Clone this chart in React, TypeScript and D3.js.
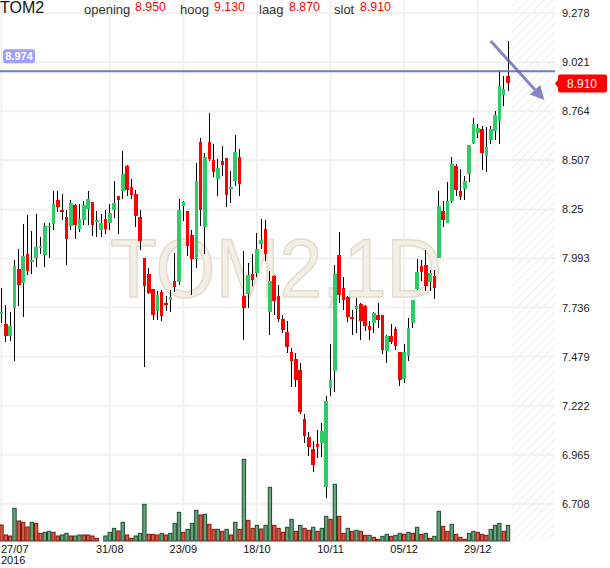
import React, { useEffect, useRef } from 'react';
import * as d3 from 'd3';

const symbol = 'TOM2';
const watermark = 'TOM2,1D';

const opens = [
  7.700, 7.651, 7.589, 7.736, 7.939, 7.864, 8.018, 7.972, 7.993, 8.046,
  8.012, 8.156, 8.175, 8.301, 8.248, 8.210, 8.165, 8.275, 8.149, 8.196,
  8.254, 8.287, 8.186, 8.144, 8.200, 8.179, 8.248, 8.322, 8.345, 8.479,
  8.368, 8.333, 8.209, 7.996, 7.914, 7.833, 7.716, 7.816, 7.760, 7.777,
  7.877, 7.868, 8.267, 8.244, 8.118, 7.992, 8.602, 8.157, 8.602, 8.511,
  8.410, 8.503, 8.517, 8.359, 8.398, 8.524, 7.798, 7.807, 7.914, 7.916,
  8.070, 8.147, 7.715, 7.899, 7.798, 7.677, 7.607, 7.502, 7.467, 7.410,
  7.153, 7.056, 6.995, 7.021, 7.025, 6.794, 7.317, 7.401, 8.013, 7.838,
  7.791, 7.689, 7.729, 7.756, 7.745, 7.640, 7.654, 7.698, 7.698, 7.506,
  7.588, 7.623, 7.501, 7.363, 7.483, 7.655, 7.835, 7.952, 7.960, 7.868,
  7.899, 7.995, 8.240, 8.179, 8.296, 8.480, 8.345, 8.357, 8.433, 8.599,
  8.651, 8.669, 8.529, 8.616, 8.660, 8.712, 8.849, 8.950,
];
const highs = [
  7.838, 7.750, 7.710, 7.986, 8.044, 8.173, 8.222, 8.138, 8.226, 8.105,
  8.179, 8.179, 8.348, 8.345, 8.331, 8.248, 8.301, 8.280, 8.280, 8.292,
  8.345, 8.287, 8.243, 8.226, 8.248, 8.280, 8.397, 8.322, 8.554, 8.484,
  8.410, 8.351, 8.246, 7.996, 7.943, 7.833, 7.821, 7.830, 7.795, 7.830,
  8.022, 8.302, 8.293, 8.244, 8.144, 8.494, 8.625, 8.543, 8.753, 8.594,
  8.515, 8.581, 8.517, 8.450, 8.642, 8.564, 8.031, 7.969, 8.018, 8.126,
  8.200, 8.193, 7.925, 7.908, 7.855, 7.698, 7.668, 7.523, 7.497, 7.444,
  7.177, 7.083, 7.039, 7.095, 7.133, 7.270, 7.546, 7.960, 8.130, 7.895,
  7.798, 7.724, 7.785, 7.759, 7.749, 7.668, 7.710, 7.759, 7.698, 7.593,
  7.651, 7.634, 7.501, 7.546, 7.681, 7.777, 7.992, 7.983, 8.036, 7.934,
  7.934, 8.345, 8.293, 8.392, 8.525, 8.490, 8.462, 8.424, 8.590, 8.730,
  8.695, 8.686, 8.683, 8.686, 8.765, 8.980, 8.948, 9.130,
];
const lows = [
  7.654, 7.558, 7.563, 7.458, 7.742, 7.689, 7.908, 7.913, 7.946, 8.018,
  7.946, 7.993, 8.140, 8.234, 8.196, 7.960, 8.140, 8.096, 8.130, 8.166,
  8.166, 8.112, 8.105, 8.105, 8.121, 8.140, 8.205, 8.123, 8.306, 8.318,
  8.305, 8.157, 8.039, 7.424, 7.809, 7.672, 7.669, 7.664, 7.716, 7.711,
  7.816, 7.856, 8.188, 8.008, 7.803, 7.943, 8.165, 8.017, 8.503, 8.420,
  8.319, 8.424, 8.261, 8.284, 8.375, 8.319, 7.567, 7.733, 7.847, 7.895,
  8.042, 7.978, 7.593, 7.698, 7.658, 7.602, 7.500, 7.322, 7.319, 7.179,
  7.028, 6.959, 6.876, 6.946, 6.955, 6.737, 7.273, 7.296, 7.759, 7.724,
  7.658, 7.593, 7.605, 7.567, 7.611, 7.567, 7.605, 7.628, 7.494, 7.448,
  7.546, 7.515, 7.326, 7.340, 7.454, 7.628, 7.830, 7.873, 7.821, 7.821,
  7.780, 7.995, 8.158, 8.179, 8.284, 8.322, 8.298, 8.298, 8.392, 8.595,
  8.625, 8.455, 8.445, 8.595, 8.613, 8.595, 8.794, 8.870,
];
const closes = [
  7.710, 7.589, 7.640, 7.951, 7.855, 8.004, 7.930, 7.983, 8.051, 8.056,
  8.165, 8.165, 8.280, 8.262, 8.234, 8.096, 8.283, 8.170, 8.200, 8.275,
  8.304, 8.170, 8.196, 8.179, 8.149, 8.231, 8.283, 8.297, 8.437, 8.353,
  8.328, 8.218, 8.083, 7.847, 7.812, 7.699, 7.803, 7.693, 7.753, 7.789,
  7.842, 8.249, 8.288, 8.057, 7.992, 8.398, 8.246, 8.524, 8.515, 8.445,
  8.468, 8.485, 8.328, 8.370, 8.550, 8.384, 7.733, 7.908, 7.882, 8.042,
  8.091, 8.016, 7.876, 7.768, 7.675, 7.616, 7.528, 7.458, 7.357, 7.191,
  7.065, 7.004, 6.911, 7.004, 7.091, 7.247, 7.357, 7.913, 7.803, 7.773,
  7.684, 7.675, 7.742, 7.668, 7.637, 7.616, 7.707, 7.672, 7.511, 7.588,
  7.558, 7.537, 7.354, 7.501, 7.628, 7.777, 7.922, 7.920, 7.847, 7.917,
  7.838, 8.270, 8.193, 8.293, 8.490, 8.354, 8.316, 8.398, 8.585, 8.700,
  8.674, 8.543, 8.578, 8.669, 8.747, 8.899, 8.882, 8.910,
];
// volume in thousands, with up (1) / down (0) colouring as published
const volumes = [
  48, 18, 15, 98, 60, 56, 42, 56, 53, 23,
  26, 29, 26, 15, 18, 23, 15, 15, 18, 18,
  18, 15, 8, 0, 15, 26, 38, 30, 56, 18,
  8, 15, 23, 110, 20, 20, 18, 23, 18, 23,
  53, 86, 26, 35, 53, 92, 78, 80, 50, 35,
  35, 29, 35, 18, 56, 35, 245, 62, 38, 47,
  36, 47, 161, 47, 38, 26, 41, 65, 29, 47,
  38, 32, 41, 29, 38, 74, 65, 170, 74, 23,
  38, 29, 32, 29, 17, 17, 11, 5, 14, 20,
  14, 17, 23, 20, 26, 23, 41, 20, 23, 8,
  14, 89, 44, 29, 50, 20, 11, 5, 23, 29,
  26, 20, 17, 35, 47, 53, 29, 47,
];
const volumeUp = [
  0, 0, 0, 1, 0, 0, 0, 1, 0, 0,
  1, 1, 0, 0, 1, 1, 0, 1, 1, 0,
  0, 0, 0, 1, 1, 1, 1, 0, 1, 0,
  0, 1, 1, 1, 0, 0, 0, 1, 0, 1,
  1, 1, 0, 1, 1, 1, 0, 1, 0, 0,
  1, 0, 1, 0, 1, 0, 1, 0, 0, 1,
  0, 1, 1, 0, 0, 0, 1, 1, 0, 1,
  0, 0, 1, 0, 1, 1, 0, 1, 0, 0,
  1, 0, 1, 0, 0, 1, 0, 0, 1, 1,
  0, 1, 1, 0, 1, 0, 1, 0, 1, 0,
  1, 1, 0, 0, 1, 0, 0, 0, 1, 1,
  0, 0, 0, 1, 1, 1, 0, 1,
];

const dateTickIndex = [0, 25, 42, 59, 76, 93, 110];
const dateTickLabels = ['27/07', '31/08', '23/09', '18/10', '10/11', '05/12', '29/12'];
const yearLabel = '2016';
const priceTicks = [6.708, 6.965, 7.222, 7.479, 7.736, 7.993, 8.25, 8.507, 8.764, 9.021, 9.278];
const lineLevel = 8.974;
const arrowFrom = [113, 9.132];
const arrowTo = [125.4, 8.823];
const headerLabels = ['opening', 'hoog', 'laag', 'slot'];
const headerValues = ['8.950', '9.130', '8.870', '8.910'];

const W = 610;
const H = 568;

export default function App() {
  const svgRef = useRef<SVGSVGElement>(null);

  useEffect(() => {
    if (!svgRef.current) return;
    const svg = d3.select(svgRef.current);
    svg.selectAll('*').remove();

    const plotRight = 555;
    const plotBottom = 541;
    const font = '"Liberation Sans", Arial, sans-serif';

    const x = d3.scaleLinear().domain([-0.35, 127.85]).range([0, plotRight]);
    const y = d3.scaleLinear().domain([6.513, 9.347]).range([plotBottom, 0]);
    const yVol = d3.scaleLinear().domain([0, 258]).range([plotBottom, plotBottom - 86]);
    const slot = x(1) - x(0);

    svg.append('rect').attr('width', W).attr('height', H).attr('fill', '#fff');

    // hatch for the empty future area
    const pat = svg.append('defs').append('pattern')
      .attr('id', 'hatch')
      .attr('width', 6)
      .attr('height', 6)
      .attr('patternUnits', 'userSpaceOnUse')
      .attr('patternTransform', 'rotate(45)');
    pat.append('line')
      .attr('x1', 0).attr('y1', 0).attr('x2', 0).attr('y2', 6)
      .attr('stroke', '#f2f2f2')
      .attr('stroke-width', 3);

    // grid
    const grid = svg.append('g').attr('stroke', '#f1f1f1').attr('stroke-width', 2);
    priceTicks.forEach(t => {
      grid.append('line').attr('x1', 0).attr('x2', plotRight).attr('y1', y(t)).attr('y2', y(t));
    });
    dateTickIndex.forEach(i => {
      grid.append('line').attr('x1', x(i)).attr('x2', x(i)).attr('y1', 0).attr('y2', plotBottom);
    });

    svg.append('rect')
      .attr('x', x(117.9))
      .attr('y', 0)
      .attr('width', plotRight - x(117.9))
      .attr('height', plotBottom)
      .attr('fill', 'url(#hatch)');

    // watermark
    svg.append('text')
      .attr('x', 110)
      .attr('y', 297)
      .attr('font-family', font)
      .attr('font-size', 84)
      .attr('textLength', 332)
      .attr('lengthAdjust', 'spacingAndGlyphs')
      .attr('fill', '#f3efe6')
      .attr('stroke', '#e3dccb')
      .attr('stroke-width', 1.5)
      .text(watermark);

    // volume
    const vol = svg.append('g');
    volumes.forEach((v, i) => {
      if (v <= 0) return;
      const up = volumeUp[i] === 1;
      vol.append('rect')
        .attr('x', x(i) - slot / 2 + 0.5)
        .attr('y', yVol(v))
        .attr('width', slot - 1)
        .attr('height', plotBottom - yVol(v))
        .attr('fill', up ? '#67a57b' : '#dc5840')
        .attr('stroke', up ? '#1e4a2e' : '#7a1a0e')
        .attr('stroke-width', 1);
    });

    // candles
    const candles = svg.append('g').attr('shape-rendering', 'crispEdges');
    closes.forEach((c, i) => {
      const o = opens[i];
      const cx = x(i);
      candles.append('line')
        .attr('x1', cx).attr('x2', cx)
        .attr('y1', y(highs[i])).attr('y2', y(lows[i]))
        .attr('stroke', '#000')
        .attr('stroke-width', 1);
      const top = y(Math.max(o, c));
      const h = Math.max(1.8, Math.abs(y(o) - y(c)));
      candles.append('rect')
        .attr('x', cx - 1.8)
        .attr('y', top)
        .attr('width', 3.6)
        .attr('height', h)
        .attr('fill', c >= o ? '#2ecc66' : '#ff0000');
    });

    // horizontal level
    svg.append('line')
      .attr('x1', 0).attr('x2', plotRight)
      .attr('y1', y(lineLevel)).attr('y2', y(lineLevel))
      .attr('stroke', '#7676c2')
      .attr('stroke-width', 2);
    svg.append('rect')
      .attr('x', 3).attr('y', y(lineLevel) - 22)
      .attr('width', 32).attr('height', 14)
      .attr('rx', 3)
      .attr('fill', '#a0a0fa');
    svg.append('text')
      .attr('x', 19).attr('y', y(lineLevel) - 11)
      .attr('text-anchor', 'middle')
      .attr('font-family', font)
      .attr('font-size', 11)
      .attr('font-weight', 'bold')
      .attr('fill', '#fff')
      .text(d3.format('.3f')(lineLevel));

    // trend arrow
    const ax0 = x(arrowFrom[0]);
    const ay0 = y(arrowFrom[1]);
    const ax1 = x(arrowTo[0]);
    const ay1 = y(arrowTo[1]);
    const ang = Math.atan2(ay1 - ay0, ax1 - ax0);
    const headLen = 14;
    const headHalf = 7;
    const bx = ax1 - headLen * Math.cos(ang);
    const by = ay1 - headLen * Math.sin(ang);
    const arrow = svg.append('g').attr('opacity', 0.75);
    arrow.append('line')
      .attr('x1', ax0).attr('y1', ay0).attr('x2', bx).attr('y2', by)
      .attr('stroke', '#5e5eb4')
      .attr('stroke-width', 3);
    arrow.append('path')
      .attr('d', `M${ax1},${ay1}L${bx + headHalf * Math.sin(ang)},${by - headHalf * Math.cos(ang)}L${bx - headHalf * Math.sin(ang)},${by + headHalf * Math.cos(ang)}Z`)
      .attr('fill', '#5e5eb4');

    // right axis
    const axis = svg.append('g').attr('font-family', font).attr('font-size', 11).attr('fill', '#222');
    priceTicks.forEach(t => {
      axis.append('text')
        .attr('x', 562)
        .attr('y', y(t) + 4)
        .text(d3.format('.3~f')(t));
    });

    // last price tag
    const last = closes[closes.length - 1];
    const ly = y(last);
    svg.append('path')
      .attr('d', `M555,${ly}L558,${ly - 4}L558,${ly - 7}Q558,${ly - 9} 560,${ly - 9}L605,${ly - 9}Q607,${ly - 9} 607,${ly - 7}L607,${ly + 7}Q607,${ly + 9} 605,${ly + 9}L560,${ly + 9}Q558,${ly + 9} 558,${ly + 7}L558,${ly + 4}Z`)
      .attr('fill', '#ff0000');
    svg.append('text')
      .attr('x', 582)
      .attr('y', ly + 4.5)
      .attr('text-anchor', 'middle')
      .attr('font-family', font)
      .attr('font-size', 12)
      .attr('fill', '#fff')
      .text(d3.format('.3f')(last));

    // date axis
    const dates = svg.append('g').attr('font-family', font).attr('font-size', 11).attr('fill', '#111');
    dateTickIndex.forEach((i, k) => {
      dates.append('text')
        .attr('x', k === 0 ? 1 : x(i))
        .attr('y', 553)
        .attr('text-anchor', k === 0 ? 'start' : 'middle')
        .text(dateTickLabels[k]);
    });
    dates.append('text').attr('x', 1).attr('y', 564).text(yearLabel);

    // header
    svg.append('text')
      .attr('x', 0).attr('y', 13)
      .attr('font-family', font)
      .attr('font-size', 16)
      .attr('fill', '#111')
      .text(symbol);
    const labelX = [84, 180, 259, 334];
    const valueX = [135, 214, 289, 360];
    headerLabels.forEach((l, k) => {
      svg.append('text')
        .attr('x', labelX[k]).attr('y', 14)
        .attr('font-family', font)
        .attr('font-size', 13)
        .attr('fill', '#333')
        .text(l);
      svg.append('text')
        .attr('x', valueX[k]).attr('y', 11)
        .attr('font-family', font)
        .attr('font-size', 12.4)
        .attr('fill', '#ff0000')
        .text(headerValues[k]);
    });
  }, []);

  return (
    <div style={{ position: 'absolute', left: 0, top: 0 }}>
      <svg ref={svgRef} width={W} height={H} />
    </div>
  );
}
